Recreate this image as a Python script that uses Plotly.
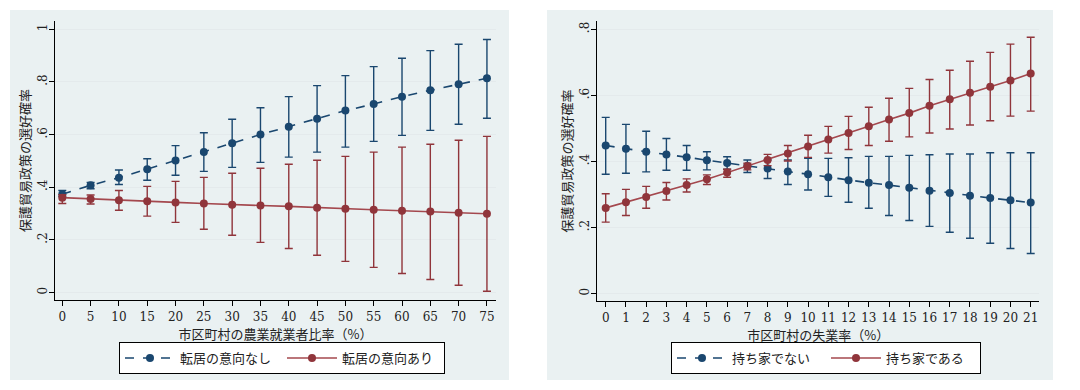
import plotly.graph_objects as go

# ---------------- data ----------------
agri_share = [0, 5, 10, 15, 20, 25, 30, 35, 40, 45, 50, 55, 60, 65, 70, 75]
agri_tick_labels = [str(v) for v in agri_share]

stay_mean = [0.373, 0.407, 0.436, 0.468, 0.501, 0.534, 0.567, 0.600, 0.630, 0.660, 0.691, 0.716, 0.744, 0.768, 0.791, 0.814]
stay_upper = [0.387, 0.418, 0.465, 0.508, 0.558, 0.607, 0.658, 0.702, 0.744, 0.786, 0.824, 0.858, 0.890, 0.919, 0.943, 0.961]
stay_lower = [0.364, 0.394, 0.410, 0.426, 0.445, 0.460, 0.475, 0.494, 0.514, 0.533, 0.552, 0.574, 0.597, 0.616, 0.639, 0.662]

move_mean = [0.360, 0.355, 0.350, 0.346, 0.342, 0.338, 0.333, 0.330, 0.327, 0.322, 0.318, 0.314, 0.310, 0.307, 0.303, 0.299]
move_upper = [0.371, 0.370, 0.387, 0.403, 0.422, 0.437, 0.453, 0.472, 0.487, 0.502, 0.517, 0.533, 0.552, 0.563, 0.578, 0.593]
move_lower = [0.338, 0.336, 0.312, 0.290, 0.266, 0.240, 0.217, 0.190, 0.167, 0.141, 0.118, 0.095, 0.072, 0.049, 0.027, 0.004]

unemp_rate = list(range(0, 22))
unemp_tick_labels = [str(v) for v in unemp_rate]

renter_mean = [0.448, 0.438, 0.429, 0.421, 0.412, 0.403, 0.395, 0.386, 0.378, 0.369, 0.361, 0.352, 0.343, 0.335, 0.328, 0.320, 0.311, 0.304, 0.296, 0.289, 0.282, 0.275]
renter_upper = [0.533, 0.512, 0.491, 0.469, 0.448, 0.429, 0.414, 0.404, 0.404, 0.404, 0.409, 0.409, 0.411, 0.415, 0.415, 0.418, 0.420, 0.422, 0.422, 0.426, 0.426, 0.426]
renter_lower = [0.361, 0.364, 0.368, 0.373, 0.373, 0.374, 0.376, 0.366, 0.348, 0.330, 0.313, 0.294, 0.276, 0.258, 0.236, 0.221, 0.203, 0.185, 0.167, 0.152, 0.136, 0.121]

owner_mean = [0.259, 0.276, 0.292, 0.310, 0.328, 0.346, 0.366, 0.385, 0.404, 0.424, 0.445, 0.466, 0.486, 0.506, 0.527, 0.546, 0.568, 0.588, 0.608, 0.626, 0.645, 0.666]
owner_upper = [0.302, 0.315, 0.324, 0.336, 0.347, 0.359, 0.376, 0.394, 0.421, 0.448, 0.479, 0.506, 0.536, 0.564, 0.591, 0.621, 0.648, 0.676, 0.703, 0.730, 0.755, 0.776]
owner_lower = [0.216, 0.236, 0.258, 0.283, 0.307, 0.330, 0.352, 0.374, 0.387, 0.401, 0.412, 0.425, 0.436, 0.448, 0.461, 0.474, 0.486, 0.498, 0.510, 0.523, 0.537, 0.552]

left_y_ticks = [0, 0.2, 0.4, 0.6, 0.8, 1.0]
left_y_labels = ["0", ".2", ".4", ".6", ".8", "1"]
right_y_ticks = [0, 0.2, 0.4, 0.6, 0.8]
right_y_labels = ["0", ".2", ".4", ".6", ".8"]

y_title = "保護貿易政策の選好確率"
left_x_title = "市区町村の農業就業者比率（%）"
right_x_title = "市区町村の失業率（%）"

# ---------------- styles ----------------
NAVY = "#1a476f"
MAROON = "#90353b"
MAROON_LINE = "#a4484e"
PANEL_BG = "#eaf1f2"
GRID = "#e4eaec"
NUM_FONT = "DejaVu Serif, Noto Sans CJK JP"
JP_FONT = "Noto Sans CJK JP, DejaVu Serif"

W, H = 1080, 390


def px_x(p):
    return p / W


def px_y(p):
    return 1 - p / H


def series(x, mean, upper, lower, name, color, line_color, dash, xa, ya, legend):
    return go.Scatter(
        x=x, y=mean, name=name, mode="lines+markers",
        xaxis=xa, yaxis=ya, legend=legend,
        line=dict(color=line_color, width=1.6, dash=dash),
        marker=dict(color=color, size=8),
        error_y=dict(
            type="data", symmetric=False,
            array=[u - m for u, m in zip(upper, mean)],
            arrayminus=[m - l for m, l in zip(mean, lower)],
            color=color, thickness=1.4, width=4,
        ),
        hoverinfo="skip",
    )


fig = go.Figure()
fig.add_trace(series(agri_share, stay_mean, stay_upper, stay_lower, "転居の意向なし",
                     NAVY, NAVY, "dash", "x", "y", "legend"))
fig.add_trace(series(agri_share, move_mean, move_upper, move_lower, "転居の意向あり",
                     MAROON, MAROON_LINE, "solid", "x", "y", "legend"))
fig.add_trace(series(unemp_rate, renter_mean, renter_upper, renter_lower, "持ち家でない",
                     NAVY, NAVY, "dash", "x2", "y2", "legend2"))
fig.add_trace(series(unemp_rate, owner_mean, owner_upper, owner_lower, "持ち家である",
                     MAROON, MAROON_LINE, "solid", "x2", "y2", "legend2"))

axis_common = dict(
    showline=True, linecolor="black", linewidth=1.2,
    ticks="outside", ticklen=5, tickcolor="black", tickwidth=1,
    zeroline=False, fixedrange=True,
    tickfont=dict(family=NUM_FONT, size=12, color="#222"),
)

fig.update_layout(
    width=W, height=H,
    margin=dict(l=0, r=0, t=0, b=0),
    paper_bgcolor="white", plot_bgcolor="white",
    font=dict(family=JP_FONT, size=13, color="#222"),
    showlegend=True,
    xaxis=dict(
        **axis_common, domain=[px_x(55), px_x(496)], anchor="y",
        range=[-1.29, 76.6], tickvals=agri_share, ticktext=agri_tick_labels,
        showgrid=False,
        title=dict(text=left_x_title, standoff=0, font=dict(family=JP_FONT, size=13)),
    ),
    yaxis=dict(
        **axis_common, domain=[px_y(300), px_y(21)], anchor="x",
        range=[-0.029, 1.0316], tickvals=left_y_ticks, ticktext=left_y_labels,
        tickangle=-90, ticklabelstandoff=-3,
        showgrid=True, gridcolor=GRID, gridwidth=1,
        title=dict(text=y_title, standoff=2, font=dict(family=JP_FONT, size=13)),
    ),
    xaxis2=dict(
        **axis_common, domain=[px_x(597.3), px_x(1039)], anchor="y2",
        range=[-0.415, 21.41], tickvals=unemp_rate, ticktext=unemp_tick_labels,
        showgrid=False,
        title=dict(text=right_x_title, standoff=0, font=dict(family=JP_FONT, size=13)),
    ),
    yaxis2=dict(
        **axis_common, domain=[px_y(301), px_y(21)], anchor="x2",
        range=[-0.023, 0.825], tickvals=right_y_ticks, ticktext=right_y_labels,
        tickangle=-90, ticklabelstandoff=-3,
        showgrid=True, gridcolor=GRID, gridwidth=1,
        title=dict(text=y_title, standoff=2, font=dict(family=JP_FONT, size=13)),
    ),
    legend=dict(
        orientation="h", x=px_x(119), y=px_y(342), xanchor="left", yanchor="top",
        bgcolor="white", bordercolor="black", borderwidth=1,
        font=dict(family=JP_FONT, size=13, color="#222"),
        itemwidth=50, itemclick=False, itemdoubleclick=False,
        entrywidth=97, entrywidthmode="pixels",
    ),
    legend2=dict(
        orientation="h", x=px_x(671), y=px_y(342), xanchor="left", yanchor="top",
        bgcolor="white", bordercolor="black", borderwidth=1,
        font=dict(family=JP_FONT, size=13, color="#222"),
        itemwidth=50, itemclick=False, itemdoubleclick=False,
        entrywidth=89, entrywidthmode="pixels",
    ),
    shapes=[
        dict(type="rect", xref="paper", yref="paper", layer="below",
             x0=px_x(10), x1=px_x(509), y0=px_y(380), y1=px_y(10),
             fillcolor=PANEL_BG, line=dict(width=0)),
        dict(type="rect", xref="paper", yref="paper", layer="below",
             x0=px_x(547), x1=px_x(1053), y0=px_y(380), y1=px_y(10),
             fillcolor=PANEL_BG, line=dict(width=0)),
    ],
)

fig.write_html(
    "out.html",
    config={"displayModeBar": False, "staticPlot": True},
    post_script="document.body.style.margin='0';document.body.style.overflow='hidden';",
)
